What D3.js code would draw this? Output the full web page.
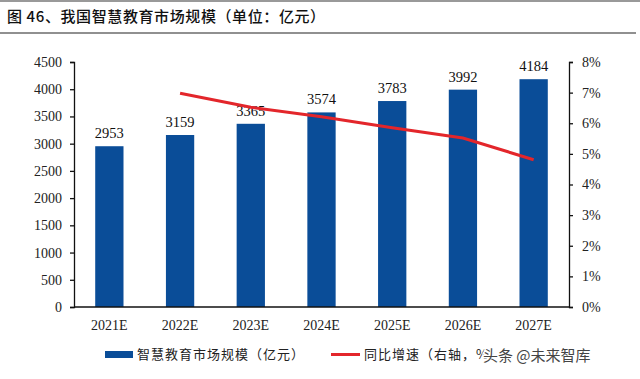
<!DOCTYPE html>
<html><head><meta charset="utf-8">
<script src="https://cdn.jsdelivr.net/npm/d3@7"></script>
<style>body{margin:0;background:#fff}svg{display:block}
.serif{font-family:"Liberation Serif","Times New Roman","DejaVu Serif",serif}
.cjk{font-family:"Noto Sans CJK SC","Noto Sans",sans-serif}
</style>
</head><body>
<svg id="c" width="640" height="379"></svg>
<script>
const categories = ["2021E","2022E","2023E","2024E","2025E","2026E","2027E"];
const marketSize = [2953,3159,3365,3574,3783,3992,4184];
const growthCats = ["2022E","2023E","2024E","2025E","2026E","2027E"];
const growthRate = [6.98,6.52,6.21,5.85,5.52,4.81];
const leftTicks = [0,500,1000,1500,2000,2500,3000,3500,4000,4500];
const rightTicks = [0,1,2,3,4,5,6,7,8];

const svg = d3.select("#c");
const blue = "#0a4d98", red = "#e3262b";
const L = 74, R = 569, T = 62, B = 307;

// title rules
svg.append("line").attr("x1",0).attr("x2",640).attr("y1",1).attr("y2",1).attr("stroke","#999").attr("stroke-width",2);
svg.append("line").attr("x1",0).attr("x2",636).attr("y1",33).attr("y2",33).attr("stroke","#222").attr("stroke-width",1.2);
svg.append("text").attr("class","cjk").attr("x",7).attr("y",22).attr("font-size",15).attr("font-weight",500).attr("fill","#111")
  .attr("letter-spacing",0.6)
  .text("图 46、我国智慧教育市场规模（单位：亿元）");

const x = d3.scaleBand().domain(categories).range([L,R]).paddingInner(0.6).paddingOuter(0.3);
const y = d3.scaleLinear().domain([0,4500]).range([B,T]);
const y2 = d3.scaleLinear().domain([0,8]).range([B,T]);

svg.selectAll("rect.bar").data(categories).join("rect").attr("class","bar")
  .attr("x",d=>x(d)).attr("width",x.bandwidth())
  .attr("y",(d,i)=>y(marketSize[i])).attr("height",(d,i)=>B-y(marketSize[i])).attr("fill",blue);

svg.selectAll("text.lab").data(categories).join("text").attr("class","lab serif")
  .attr("x",d=>x(d)+x.bandwidth()/2).attr("y",(d,i)=>y(marketSize[i])-8)
  .attr("text-anchor","middle").attr("font-size",14.5).attr("fill","#111")
  .text((d,i)=>marketSize[i]);

const line = d3.line().x((d,i)=>x(growthCats[i])+x.bandwidth()/2).y(d=>y2(d));
svg.append("path").datum(growthRate).attr("d",line).attr("fill","none").attr("stroke",red).attr("stroke-width",3);

const ly = svg.append("g").attr("transform",`translate(${L},0)`)
  .call(d3.axisLeft(y).tickValues(leftTicks).tickSize(4).tickPadding(8).tickFormat(d3.format("d")));
const ry = svg.append("g").attr("transform",`translate(${R},0)`)
  .call(d3.axisRight(y2).tickValues(rightTicks).tickSize(4).tickPadding(9).tickFormat(d=>d+"%"));
const bx = svg.append("g").attr("transform",`translate(0,${B})`)
  .call(d3.axisBottom(x).tickSize(0).tickPadding(13));
[ly,ry,bx].forEach(g=>{
  g.attr("font-family",null);
  g.selectAll("path.domain").attr("stroke","#111").attr("stroke-width",1.3);
  g.selectAll(".tick line").attr("stroke","#111").attr("stroke-width",1.3);
  g.selectAll("text").attr("class","serif").attr("font-size",14).attr("fill","#222");
});
bx.select("path.domain").attr("d",`M${L},0H${R}`);

// legend
const lg = svg.append("g");
lg.append("rect").attr("x",105).attr("y",351).attr("width",28).attr("height",7).attr("fill",blue);
lg.append("text").attr("class","cjk").attr("x",137).attr("y",359).attr("font-size",13).attr("letter-spacing",1).attr("fill","#222").text("智慧教育市场规模（亿元）");
lg.append("line").attr("x1",331).attr("x2",360).attr("y1",354.5).attr("y2",354.5).attr("stroke",red).attr("stroke-width",3);
lg.append("text").attr("class","cjk").attr("x",364).attr("y",359).attr("font-size",13).attr("letter-spacing",1).attr("fill","#222").text("同比增速（右轴，%）");

// watermark
svg.append("text").attr("class","cjk").attr("x",483).attr("y",361).attr("font-size",15)
  .attr("fill","#444").attr("stroke","#fff").attr("stroke-width",3).attr("paint-order","stroke")
  .text("头条 @未来智库");
</script>
</body></html>
